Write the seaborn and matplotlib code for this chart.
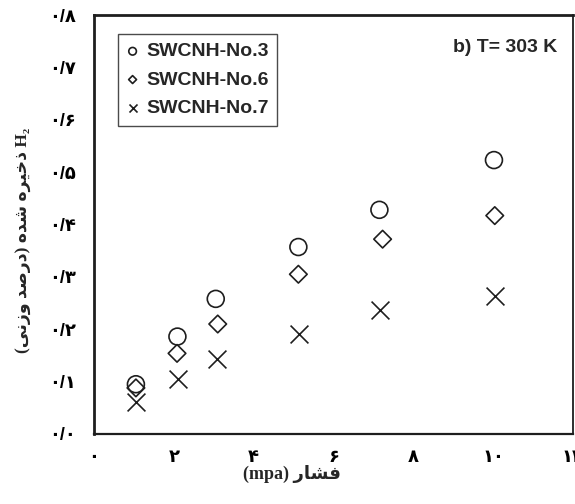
import matplotlib
matplotlib.use("Agg")
import matplotlib.pyplot as plt
import seaborn as sns
import pandas as pd

# Hydrogen uptake (wt%) versus pressure (MPa) at 303 K
pressure_no3 = [1.05, 2.09, 3.05, 5.12, 7.15, 10.02]
uptake_no3 = [0.095, 0.186, 0.258, 0.357, 0.428, 0.523]

pressure_no6 = [1.05, 2.08, 3.10, 5.12, 7.23, 10.04]
uptake_no6 = [0.088, 0.154, 0.210, 0.305, 0.372, 0.417]

pressure_no7 = [1.05, 2.11, 3.09, 5.13, 7.16, 10.04]
uptake_no7 = [0.062, 0.105, 0.143, 0.190, 0.237, 0.264]

series_names = ["SWCNH-No.3", "SWCNH-No.6", "SWCNH-No.7"]

x_ticks = [0, 2, 4, 6, 8, 10, 12]
x_tick_labels = ["۰", "۲", "۴", "۶", "۸", "۱۰", "۱۲"]
y_ticks = [0.0, 0.1, 0.2, 0.3, 0.4, 0.5, 0.6, 0.7, 0.8]
y_tick_labels = ["۰/۰", "۰/۱", "۰/۲", "۰/۳", "۰/۴", "۰/۵", "۰/۶", "۰/۷", "۰/۸"]

# Persian axis titles, written in shaped visual order (presentation forms)
x_title = "(mpa) \ufead\ufe8e\ufeb8\ufed3"
y_title = ("(\ufef0\ufee7\ufeaf\ufeed \ufeaa\ufebb\ufead\ufea9) "
           "\ufee9\ufeaa\ufeb7 \ufee9\ufeae\ufef4\ufea7\ufeab H\u2082")
panel_title = "b) T= 303 K"

df = pd.concat([
    pd.DataFrame({"pressure": pressure_no3, "uptake": uptake_no3, "sample": series_names[0]}),
    pd.DataFrame({"pressure": pressure_no6, "uptake": uptake_no6, "sample": series_names[1]}),
    pd.DataFrame({"pressure": pressure_no7, "uptake": uptake_no7, "sample": series_names[2]}),
], ignore_index=True)

sns.set_theme(style="white")
plt.rcParams["font.family"] = ["Liberation Sans", "DejaVu Sans"]

fig = plt.figure(figsize=(5.75, 5.04), dpi=100)
ax = fig.add_axes([94 / 575, 1 - 434 / 504, (573 - 94) / 575, (434 - 15) / 504])

ink = "#1e1e1e"
styles = {
    series_names[0]: dict(marker="o", s=148, facecolor="none", edgecolor=ink, linewidth=1.2),
    series_names[1]: dict(marker="D", s=80, facecolor="none", edgecolor=ink, linewidth=1.2),
    series_names[2]: dict(marker="x", s=165, color=ink, linewidth=1.2),
}
for name in series_names:
    sub = df[df["sample"] == name]
    sns.scatterplot(data=sub, x="pressure", y="uptake", ax=ax, label=name, **styles[name])

ax.set_xlim(0, 12)
ax.set_ylim(0, 0.8)
ax.set_xticks(x_ticks)
ax.set_xticklabels(x_tick_labels)
ax.set_yticks(y_ticks)
ax.set_yticklabels(y_tick_labels)
ax.tick_params(axis="both", direction="in", length=6, width=1.0, color=ink,
               labelsize=13, labelcolor="black")
ax.tick_params(axis="x", pad=11)
ax.tick_params(axis="y", pad=13)
for lab in ax.get_xticklabels() + ax.get_yticklabels():
    lab.set_fontweight("bold")

for side, lw in {"left": 2.0, "top": 2.0, "bottom": 1.6, "right": 1.3}.items():
    ax.spines[side].set_visible(True)
    ax.spines[side].set_linewidth(lw)
    ax.spines[side].set_color(ink)

ax.set_xlabel(x_title, fontsize=13, fontweight="bold",
              family=["Liberation Serif", "DejaVu Sans"])
ax.xaxis.set_label_coords((292 - 94) / 479, (434 - 474) / 419)
ax.xaxis.label.set_va("center")

ax.set_ylabel(y_title, fontsize=12.5, fontweight="bold",
              family=["Liberation Serif", "DejaVu Sans"])
ax.yaxis.set_label_coords((23 - 94) / 479, (434 - 240) / 419)
ax.yaxis.label.set_va("center")

ax.text((505 - 94) / 479, (434 - 47) / 419, panel_title, transform=ax.transAxes,
        ha="center", va="center", fontsize=14, fontweight="bold")

leg = ax.legend(loc="upper left", bbox_to_anchor=((118 - 94) / 479, (434 - 34) / 419),
                borderaxespad=0, frameon=True, fancybox=False, markerscale=0.45,
                handlelength=0.6, handletextpad=0.4, labelspacing=0.55,
                borderpad=0.45, prop={"weight": "bold", "size": 14})
leg.get_frame().set_edgecolor(ink)
leg.get_frame().set_linewidth(1.0)

fig.savefig("out.png", dpi=100)
